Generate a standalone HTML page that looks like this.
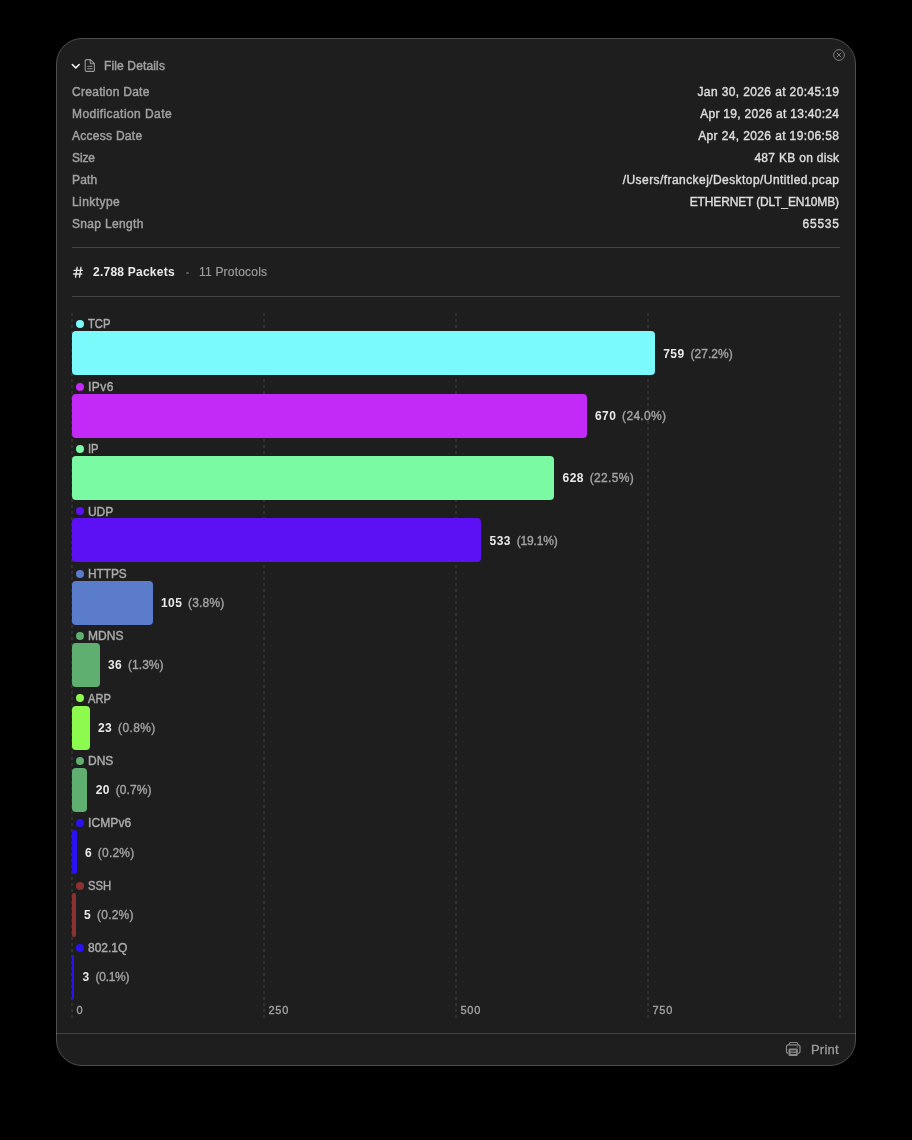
<!DOCTYPE html>
<html>
<head>
<meta charset="utf-8">
<title>File Details</title>
<style>
  html, body { margin: 0; padding: 0; }
  body {
    width: 912px; height: 1140px; overflow: hidden;
    background: #000;
    font-family: "Liberation Sans", sans-serif;
    font-size: 12px;
    color: #a0a0a0;
    position: relative;
  }
  .win {
    position: absolute; left: 56px; top: 38px;
    width: 800px; height: 1028px; box-sizing: border-box;
    border: 1px solid #4d4d4d; border-radius: 26px;
    background: #1e1e1e;
  }
  .layer { position: absolute; left: 0; top: 0; width: 912px; height: 1140px; will-change: transform; }
  .abs { position: absolute; white-space: nowrap; line-height: 14px; }
  .lbl { left: 72px; color: #a0a0a0; -webkit-text-stroke: 0.45px #a0a0a0; }
  .val { right: 73px; color: #dedede; text-align: right; -webkit-text-stroke: 0.4px #dcdcdc; }
  .hr { position: absolute; left: 72px; width: 768px; height: 1px; background: #444; }
  .bar { position: absolute; left: 72px; height: 44px; border-radius: 3px; }
  .dot { position: absolute; left: 76px; width: 8px; height: 8px; border-radius: 50%; }
  .pl { left: 88px; color: #acacac; -webkit-text-stroke: 0.4px #acacac; }
  .num { color: #e8e8e8; font-weight: bold; letter-spacing: 0.45px; }
  .pct { color: #a4a4a4; -webkit-text-stroke: 0.35px #a4a4a4; letter-spacing: 0.05px; margin-left: 2.5px; }
  .ax { font-size: 11px; color: #a6a6a6; -webkit-text-stroke: 0.3px #a6a6a6; letter-spacing: 0.75px; line-height: 12px; top: 1004px; }
</style>
</head>
<body>
<div class="win"></div>
<div class="layer">
<svg class="abs" style="left:70px;top:60px" width="12" height="12" viewBox="0 0 12 12"><path d="M2.3 4.45 L5.75 7.9 L9.2 4.45" fill="none" stroke="#f2f2f2" stroke-width="1.5" stroke-linecap="round" stroke-linejoin="round"/></svg>
<svg class="abs" style="left:84px;top:58px" width="12" height="15" viewBox="0 0 12 15"><path d="M2.6 1.6 H6.4 L10.4 5.6 V12 a1.4 1.4 0 0 1 -1.4 1.4 H2.6 a1.4 1.4 0 0 1 -1.4 -1.4 V3 a1.4 1.4 0 0 1 1.4 -1.4 Z M6.2 1.8 V4.6 a1.2 1.2 0 0 0 1.2 1.2 H10.2" fill="none" stroke="#9a9a9a" stroke-width="1.1" stroke-linejoin="round"/><path d="M3.3 8.4 H8.5 M3.3 10.6 H8.5" stroke="#7c7c7c" stroke-width="1.4"/></svg>
<div class="abs" style="left:104px;top:59px;color:#a0a0a0;letter-spacing:0.14px;-webkit-text-stroke:0.45px #a0a0a0">File Details</div>
<svg class="abs" style="left:832px;top:48px" width="14" height="14" viewBox="0 0 14 14"><circle cx="7" cy="7" r="5.4" fill="none" stroke="#7d7d7d" stroke-width="1"/><path d="M5.05 5.05 L8.95 8.95 M8.95 5.05 L5.05 8.95" stroke="#7d7d7d" stroke-width="1" stroke-linecap="round"/></svg>
<div class="abs lbl" style="top:85px;letter-spacing:0.28px">Creation Date</div><div class="abs val" style="top:85px;letter-spacing:0.38px;margin-right:-0.38px">Jan 30, 2026 at 20:45:19</div>
<div class="abs lbl" style="top:107px;letter-spacing:0.43px">Modification Date</div><div class="abs val" style="top:107px;letter-spacing:0.29px;margin-right:-0.29px">Apr 19, 2026 at 13:40:24</div>
<div class="abs lbl" style="top:129px;letter-spacing:0.27px">Access Date</div><div class="abs val" style="top:129px;letter-spacing:0.38px;margin-right:-0.38px">Apr 24, 2026 at 19:06:58</div>
<div class="abs lbl" style="top:151px;letter-spacing:-0.1px">Size</div><div class="abs val" style="top:151px;letter-spacing:0.3px;margin-right:-0.3px">487 KB on disk</div>
<div class="abs lbl" style="top:173px;letter-spacing:0.14px">Path</div><div class="abs val" style="top:173px;letter-spacing:0.43px;margin-right:-0.43px">/Users/franckej/Desktop/Untitled.pcap</div>
<div class="abs lbl" style="top:195px;letter-spacing:0.44px">Linktype</div><div class="abs val" style="top:195px;letter-spacing:-0.15px;margin-right:0.15px">ETHERNET (DLT_EN10MB)</div>
<div class="abs lbl" style="top:217px;letter-spacing:0.34px">Snap Length</div><div class="abs val" style="top:217px;letter-spacing:0.77px;margin-right:-0.77px">65535</div>
<div class="hr" style="top:247px"></div>
<svg class="abs" style="left:72px;top:265px" width="12" height="14" viewBox="0 0 12 14"><path d="M5.1 2.3 L3.6 12.1 M9.0 2.3 L7.5 12.1 M2.1 5.4 H10.3 M1.6 9.0 H9.8" fill="none" stroke="#e6e6e6" stroke-width="1.35" stroke-linecap="round"/></svg>
<div class="abs num" style="left:93px;top:265px;font-size:12px;letter-spacing:0.24px">2.788 Packets</div>
<div style="position:absolute;left:186px;top:271.7px;width:2.6px;height:2.6px;border-radius:50%;background:#5c5c5c"></div>
<div class="abs" style="left:199px;top:265px;color:#9c9c9c;letter-spacing:0.2px;-webkit-text-stroke:0.2px #9c9c9c">11 Protocols</div>
<div class="hr" style="top:296px"></div>
<svg class="abs" style="left:0;top:0" width="912" height="1140"><line x1="72" y1="313" x2="72" y2="1019" stroke="#424242" stroke-width="1" stroke-dasharray="3 3"/><line x1="264" y1="313" x2="264" y2="1019" stroke="#424242" stroke-width="1" stroke-dasharray="3 3"/><line x1="456" y1="313" x2="456" y2="1019" stroke="#424242" stroke-width="1" stroke-dasharray="3 3"/><line x1="648" y1="313" x2="648" y2="1019" stroke="#424242" stroke-width="1" stroke-dasharray="3 3"/><line x1="840" y1="313" x2="840" y2="1019" stroke="#424242" stroke-width="1" stroke-dasharray="3 3"/></svg>
<div class="dot" style="top:319.8px;background:#7bfafb"></div><div class="abs pl" style="top:317px;letter-spacing:0.0px;transform:scaleX(0.935);transform-origin:0 0">TCP</div>
<div class="bar" style="top:331px;width:582.9px;background:#7bfafb;border-radius:4px"></div>
<div class="abs" style="left:663.2px;top:347px"><span class="num">759</span> <span class="pct" style="letter-spacing:0.05px">(27.2%)</span></div>
<div class="dot" style="top:382.6px;background:#c42af7"></div><div class="abs pl" style="top:380px;letter-spacing:0.43px;transform:scaleX(1);transform-origin:0 0">IPv6</div>
<div class="bar" style="top:393.8px;width:514.6px;background:#c42af7;border-radius:4px"></div>
<div class="abs" style="left:594.9px;top:409px"><span class="num">670</span> <span class="pct" style="letter-spacing:0.3px">(24.0%)</span></div>
<div class="dot" style="top:444.8px;background:#7afaa3"></div><div class="abs pl" style="top:442px;letter-spacing:0.0px;transform:scaleX(0.93);transform-origin:0 0">IP</div>
<div class="bar" style="top:456px;width:482.3px;background:#7afaa3;border-radius:4px"></div>
<div class="abs" style="left:562.6px;top:471px"><span class="num">628</span> <span class="pct" style="letter-spacing:0.3px">(22.5%)</span></div>
<div class="dot" style="top:507.1px;background:#5c10f4"></div><div class="abs pl" style="top:505px;letter-spacing:-0.05px;transform:scaleX(1);transform-origin:0 0">UDP</div>
<div class="bar" style="top:518.3px;width:409.3px;background:#5c10f4;border-radius:4px"></div>
<div class="abs" style="left:489.6px;top:534px"><span class="num">533</span> <span class="pct" style="letter-spacing:-0.2px">(19.1%)</span></div>
<div class="dot" style="top:569.5px;background:#5b7ccb"></div><div class="abs pl" style="top:567px;letter-spacing:0.0px;transform:scaleX(0.985);transform-origin:0 0">HTTPS</div>
<div class="bar" style="top:580.7px;width:80.6px;background:#5b7ccb;border-radius:4px"></div>
<div class="abs" style="left:160.9px;top:596px"><span class="num">105</span> <span class="pct" style="letter-spacing:0.15px">(3.8%)</span></div>
<div class="dot" style="top:631.9px;background:#5fb070"></div><div class="abs pl" style="top:629px;letter-spacing:0.05px;transform:scaleX(1);transform-origin:0 0">MDNS</div>
<div class="bar" style="top:643.1px;width:27.6px;background:#5fb070;border-radius:4px"></div>
<div class="abs" style="left:107.9px;top:658px"><span class="num">36</span> <span class="pct" style="letter-spacing:0.05px">(1.3%)</span></div>
<div class="dot" style="top:694.4px;background:#8dfb4e"></div><div class="abs pl" style="top:692px;letter-spacing:0.0px;transform:scaleX(0.925);transform-origin:0 0">ARP</div>
<div class="bar" style="top:705.6px;width:17.7px;background:#8dfb4e;border-radius:4px"></div>
<div class="abs" style="left:98.0px;top:721px"><span class="num">23</span> <span class="pct" style="letter-spacing:0.35px">(0.8%)</span></div>
<div class="dot" style="top:756.7px;background:#5fb070"></div><div class="abs pl" style="top:754px;letter-spacing:0.0px;transform:scaleX(1);transform-origin:0 0">DNS</div>
<div class="bar" style="top:767.9px;width:15.4px;background:#5fb070;border-radius:4px"></div>
<div class="abs" style="left:95.7px;top:783px"><span class="num">20</span> <span class="pct" style="letter-spacing:0.05px">(0.7%)</span></div>
<div class="dot" style="top:819.0px;background:#2a12f5"></div><div class="abs pl" style="top:816px;letter-spacing:0.1px;transform:scaleX(1);transform-origin:0 0">ICMPv6</div>
<div class="bar" style="top:830.2px;width:4.6px;background:#2a12f5;border-radius:2.3px"></div>
<div class="abs" style="left:84.9px;top:846px"><span class="num">6</span> <span class="pct" style="letter-spacing:0.2px">(0.2%)</span></div>
<div class="dot" style="top:881.6px;background:#8c3232"></div><div class="abs pl" style="top:879px;letter-spacing:0.0px;transform:scaleX(0.94);transform-origin:0 0">SSH</div>
<div class="bar" style="top:892.8px;width:3.8px;background:#8c3232;border-radius:1.9px"></div>
<div class="abs" style="left:84.1px;top:908px"><span class="num">5</span> <span class="pct" style="letter-spacing:0.2px">(0.2%)</span></div>
<div class="dot" style="top:944.0px;background:#2a12f5"></div><div class="abs pl" style="top:941px;letter-spacing:0.0px;transform:scaleX(1);transform-origin:0 0">802.1Q</div>
<div class="bar" style="top:955.2px;width:2.3px;background:#2a12f5;border-radius:1.15px"></div>
<div class="abs" style="left:82.6px;top:970px"><span class="num">3</span> <span class="pct" style="letter-spacing:-0.3px">(0.1%)</span></div>
<div class="abs ax" style="left:76.4px">0</div>
<div class="abs ax" style="left:268.4px">250</div>
<div class="abs ax" style="left:460.4px">500</div>
<div class="abs ax" style="left:652.4px">750</div>
<div style="position:absolute;left:56px;width:800px;top:1033px;height:1px;background:rgba(255,255,255,0.17)"></div>
<svg class="abs" style="left:785px;top:1041px" width="17" height="16" viewBox="0 0 17 16"><rect x="4.45" y="1.45" width="8.1" height="3.4" rx="1" fill="none" stroke="#8a8a8a" stroke-width="1.1"/><rect x="1.5" y="3.8" width="13.5" height="8.5" rx="1.7" fill="#1e1e1e" stroke="#8a8a8a" stroke-width="1.2"/><circle cx="12.2" cy="5.9" r="0.65" fill="#8a8a8a"/><rect x="3.1" y="7.2" width="10.1" height="8" rx="1.4" fill="#1e1e1e"/><rect x="3.5" y="7.6" width="9.3" height="7.3" rx="1.2" fill="#8a8a8a"/><path d="M5.4 9.8 H11.0 M5.4 12.4 H11.0" stroke="#2a2a2a" stroke-width="1.2"/></svg>
<div class="abs" style="left:811px;top:1041.5px;font-size:13px;line-height:15px;color:#9c9c9c;letter-spacing:0.2px;-webkit-text-stroke:0.3px #9c9c9c">Print</div>
</div>
</body>
</html>
